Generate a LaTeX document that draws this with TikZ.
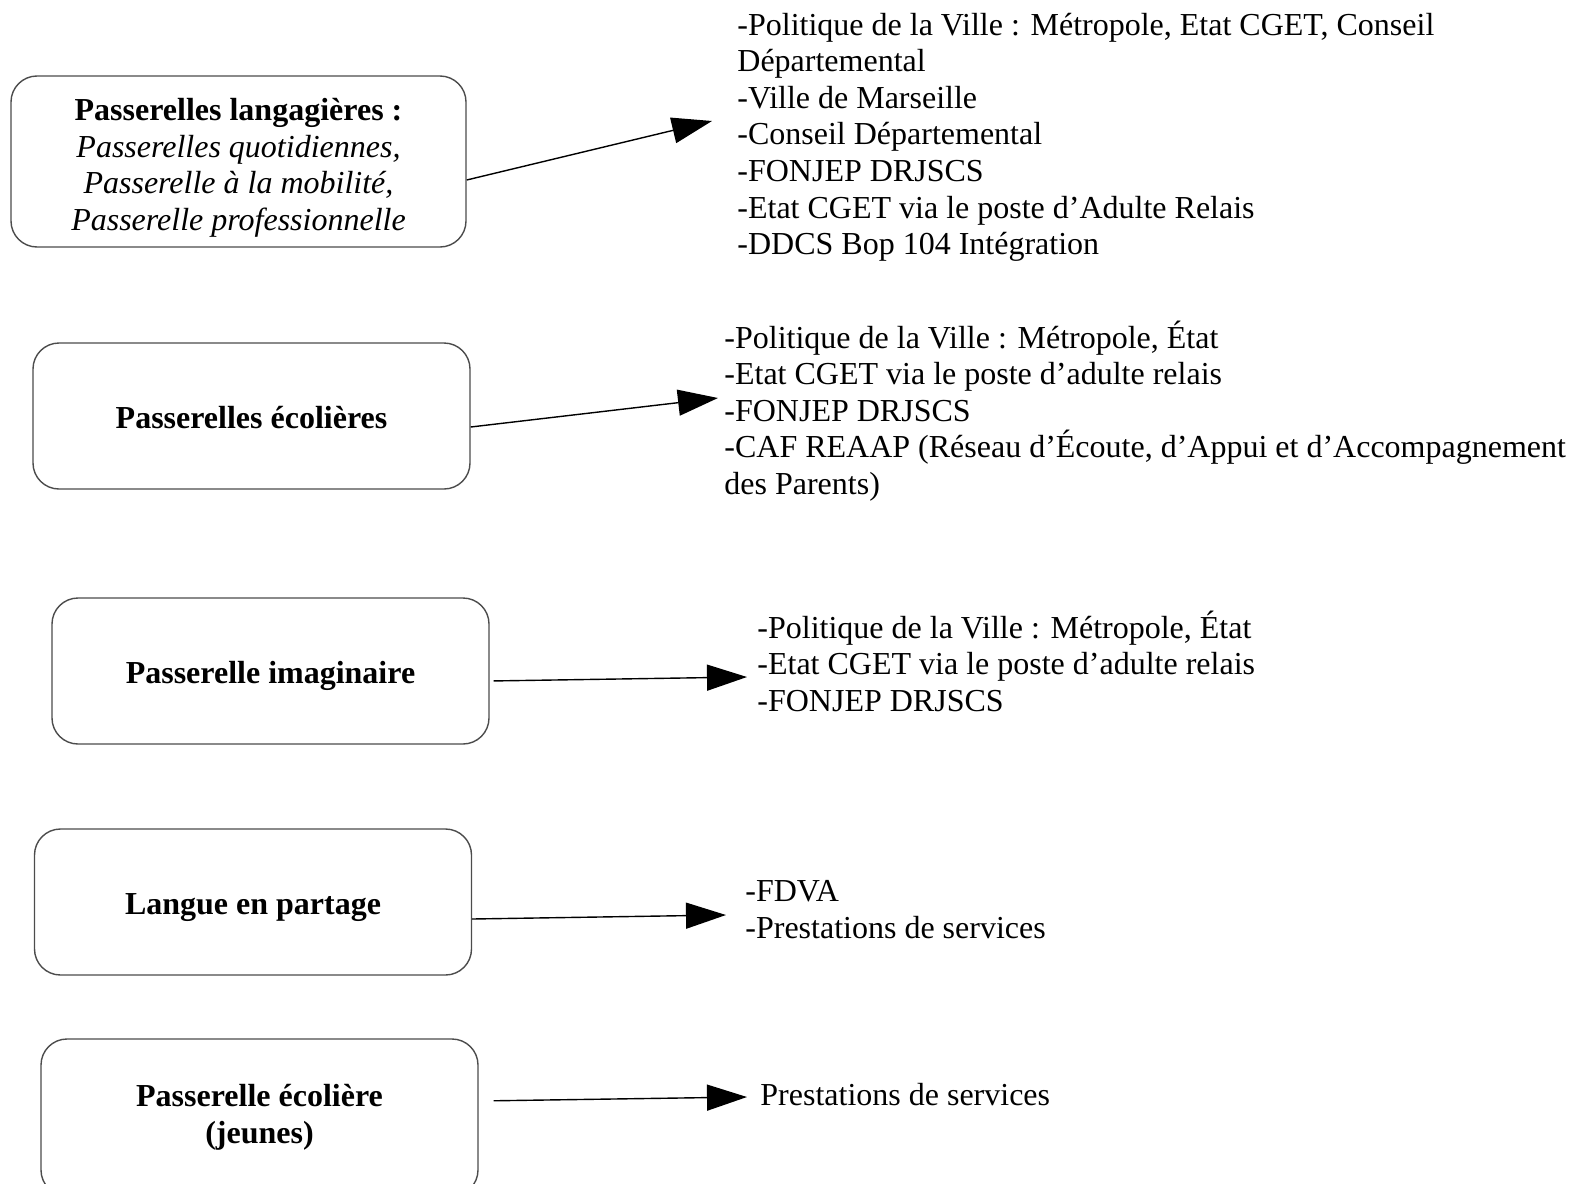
\documentclass[tikz,border=0pt]{standalone}
\usepackage{fontspec}
\setmainfont{Liberation Serif}
\usetikzlibrary{arrows.meta}

\begin{document}
\begin{tikzpicture}[
  x=0.5pt, y=-0.5pt,
  every node/.style={font=\fontsize{16}{18.3}\selectfont},
  box/.style={rectangle, rounded corners=13pt, draw=black!70, line width=0.7pt, minimum width=218.5pt, minimum height=73pt, align=center, inner sep=0pt, text height=14pt, text depth=2pt},
  funders/.style={anchor=base west, align=left, inner sep=0pt},
  arrow/.style={-{Triangle[length=20pt,width=13pt]}, line width=0.7pt, black}
]
\useasboundingbox (0,0) rectangle (1573,1183);

% actions
\node[box, minimum width=227.5pt, minimum height=85.5pt, text height=71pt] (langagieres) at (238.5,161.5)
  {\textbf{Passerelles langagières :}\\\textit{Passerelles quotidiennes,}\\\textit{Passerelle à la mobilité,}\\\textit{Passerelle professionnelle}};
\node[box] (ecolieres) at (251.5,416) {\textbf{Passerelles écolières}};
\node[box] (imaginaire) at (270.5,671) {\textbf{Passerelle imaginaire}};
\node[box] (partage) at (253,902) {\textbf{Langue en partage}};
\node[box, minimum height=78.5pt, text height=28pt] (jeunes) at (259.5,1117.5) {\textbf{Passerelle écolière}\\\textbf{(jeunes)}};

% financeurs (base = last line)
\node[funders] (f-langagieres) at (737,254.6)
  {-Politique de la Ville : Métropole, Etat CGET, Conseil\\Départemental\\-Ville de Marseille\\-Conseil Départemental\\-FONJEP DRJSCS\\-Etat CGET via le poste d’Adulte Relais\\-DDCS Bop 104 Intégration};
\node[funders] (f-ecolieres) at (724,494.4)
  {-Politique de la Ville : Métropole, État\\-Etat CGET via le poste d’adulte relais\\-FONJEP DRJSCS\\-CAF REAAP (Réseau d’Écoute, d’Appui et d’Accompagnement\\des Parents)};
\node[funders] (f-imaginaire) at (757,711.5)
  {-Politique de la Ville : Métropole, État\\-Etat CGET via le poste d’adulte relais\\-FONJEP DRJSCS};
\node[funders] (f-partage) at (745,938) {-FDVA\\-Prestations de services};
\node[funders] (f-jeunes) at (760,1105) {Prestations de services};

\coordinate (to-langagieres) at (712,121);
\coordinate (to-ecolieres) at (718,398);
\coordinate (to-imaginaire) at (747,677);
\coordinate (to-partage) at (726,915);
\coordinate (to-jeunes) at (747,1097);

\draw[arrow] (langagieres.east |- 0,180) -- (to-langagieres);
\draw[arrow] (ecolieres.east |- 0,427) -- (to-ecolieres);
\draw[arrow, shorten <=2pt] (imaginaire.east |- 0,681) -- (to-imaginaire);
\draw[arrow] (partage.east |- 0,919) -- (to-partage);
\draw[arrow, shorten <=7.5pt] (jeunes.east |- 0,1101) -- (to-jeunes);
\end{tikzpicture}
\end{document}
